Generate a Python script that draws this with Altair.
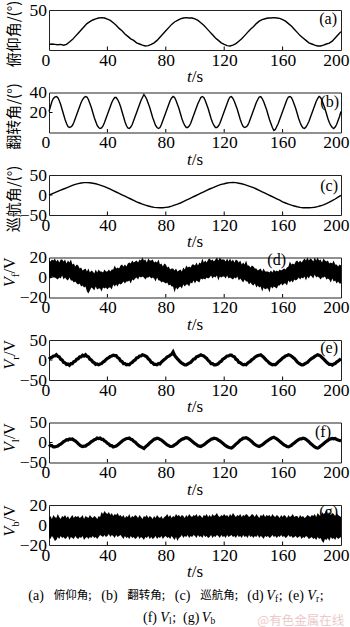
import altair as alt
import pandas as pd

# ---------------- data ----------------
T1 = list(range(0, 201))        # 1 s steps
T2 = list(range(0, 201, 2))     # 2 s steps

pitch = [7, 7.5, 7, 6.5, 7, 6, 7, 10, 13, 17,
         21, 25, 29, 33, 35.5, 37.5, 39, 40, 40.5, 40,
         38.5, 37, 34, 31, 27, 24, 20, 17, 14, 12,
         9, 7.5, 6, 5, 5.5, 7, 9, 12, 16, 20,
         24, 28, 32, 35, 37, 39, 40, 40.5, 40, 40,
         39, 37, 34, 31, 27, 23, 19, 15, 12, 9,
         7, 5.5, 5, 6, 8, 11, 14, 18, 22, 26,
         29, 33, 36, 38, 39, 40, 40, 40.5, 40, 39.5,
         38, 36, 33, 30, 26, 22, 18, 15, 12, 9,
         7.5, 6, 5, 5, 6, 7.5, 8.5, 11, 15, 19,
         23]

roll = [21, 26, 31, 34, 35.5, 36, 35, 32, 28, 23,
        18, 13, 9, 6, 5, 5.5, 7, 10, 14, 18,
        22, 26, 30, 33, 35, 36, 35.5, 33, 29, 25,
        20, 15, 11, 7, 5, 4, 4.5, 6.5, 10, 14,
        18, 22, 26, 30, 33, 35, 35, 33, 30, 26,
        21, 16, 11, 7, 4.5, 4, 5.5, 8, 12, 16,
        20, 24, 28, 32, 35, 38, 36, 33, 29, 25,
        20, 15, 11, 7, 5, 4, 5, 8, 12, 16,
        20, 24, 28, 32, 34.5, 36, 35, 32, 28, 24,
        19, 14, 10, 7, 5, 5, 6.5, 9, 13, 17,
        21, 25, 29, 32, 35, 36, 35, 32, 28, 24,
        19, 14, 10, 7, 5, 5, 6.5, 9, 13, 17,
        21, 25, 29, 33, 35.5, 36, 34, 31, 27, 23,
        18, 13, 9, 6, 5, 5.5, 7, 10, 14, 18,
        22, 26, 30, 33, 35.5, 36, 34, 31, 27, 23,
        18, 13, 9, 5, 2, 3, 6, 9, 13, 17,
        21, 25, 29, 33, 35.5, 36, 35, 32, 28, 24,
        19, 14, 10, 6.5, 4.5, 4, 5.5, 8, 11, 15,
        19, 23, 27, 31, 34, 36, 35, 32, 28, 24,
        19, 14, 10, 7, 5, 4, 5.5, 8, 12, 16,
        21]

yaw = [0, 3, 6, 9, 12, 15, 18, 21, 24, 26.5,
       28.5, 30, 31, 31, 30.5, 29.5, 28, 26, 23.5, 21,
       18, 14.5, 11, 7.5, 4, 0.5, -3, -6.5, -10, -13.5,
       -17, -20, -23, -25.5, -27.5, -29.5, -31, -31.5, -32, -32,
       -31, -30, -28, -25.5, -23, -20, -16.5, -13, -9.5, -6,
       -2.5, 1, 4.5, 8, 11.5, 15, 18, 21, 24, 26.5,
       28, 30, 31, 31.5, 31, 29.5, 28, 26, 23.5, 21,
       18.5, 15, 11.5, 8, 4.5, 1, -2.5, -6, -9.5, -13,
       -17, -20, -23, -25.5, -27.5, -29.5, -31, -32, -32, -32,
       -31.5, -30.5, -29, -27, -24.5, -21.5, -18, -14, -10, -5.5,
       -1]

vf_hi = [17, 16, 18, 17, 19, 16, 18, 15, 18, 18,
         16, 18, 14, 17, 15, 18, 13, 14, 11, 13,
         12, 9, 10, 7, 8, 9, 6, 9, 5, 7,
         6, 4, 8, 5, 8, 6, 6, 5, 8, 6,
         6, 8, 6, 8, 8, 12, 9, 10, 9, 12,
         13, 11, 13, 11, 14, 15, 14, 17, 15, 16,
         17, 15, 18, 17, 20, 17, 18, 15, 19, 17,
         17, 18, 15, 16, 15, 18, 13, 14, 11, 14,
         13, 10, 11, 8, 9, 9, 7, 9, 6, 7,
         8, 6, 10, 8, 12, 10, 11, 10, 13, 13,
         12, 15, 12, 15, 14, 19, 15, 17, 15, 18,
         19, 17, 18, 16, 18, 20, 17, 20, 18, 18,
         18, 16, 19, 16, 19, 16, 18, 15, 18, 17,
         15, 17, 13, 15, 13, 17, 12, 12, 10, 12,
         11, 9, 9, 7, 8, 9, 6, 9, 6, 6,
         6, 5, 7, 5, 8, 6, 7, 6, 8, 7,
         8, 9, 8, 10, 11, 16, 13, 14, 13, 16,
         17, 15, 17, 15, 17, 19, 17, 20, 17, 19,
         18, 16, 20, 17, 20, 17, 18, 15, 19, 17,
         16, 17, 14, 15, 14, 17, 13, 13, 11, 13,
         12]
vf_lo = [0, -1, 1, 0, 0, -1, -2, 0, -1, 2,
         -2, 0, -2, -3, 0, -3, -3, -5, -4, -6,
         -7, -6, -9, -8, -10, -9, -14, -16, -13, -10,
         -11, -13, -9, -12, -11, -11, -14, -10, -11, -10,
         -12, -10, -10, -12, -7, -9, -7, -9, -6, -7,
         -6, -4, -6, -4, -4, -3, -6, -2, -3, -1,
         0, -2, 1, 0, 1, 0, -2, 0, 0, 1,
         -1, 0, -1, -4, 0, -3, -3, -5, -4, -5,
         -6, -5, -8, -7, -9, -9, -15, -10, -12, -10,
         -9, -11, -7, -9, -7, -7, -9, -5, -6, -3,
         -6, -3, -4, -5, -1, -2, -1, -2, 0, -1,
         0, 2, -1, 1, 0, 2, -3, 1, 0, 1,
         1, -1, 2, -1, 0, -1, -2, 0, -1, 1,
         -3, -1, -3, -5, -2, -4, -4, -7, -5, -7,
         -8, -6, -10, -8, -10, -9, -14, -10, -12, -11,
         -11, -15, -9, -11, -9, -10, -11, -8, -8, -6,
         -8, -6, -6, -8, -3, -5, -3, -5, -2, -3,
         -2, 0, -2, 0, -1, 1, -3, 1, -1, 2,
         1, -1, 3, 0, 1, 0, -2, 0, 0, 1,
         -2, -1, -2, -5, -1, -4, -3, -6, -4, -6,
         -6]

vr = [2, 6, 7, 10, 10, 13, 9, 8, 2, 0,
      -6, -7, -11, -10, -13, -9, -9, -4, -3, 2,
      3, 8, 8, 12, 10, 13, 9, 8, 2, 0,
      -5, -7, -11, -10, -12, -10, -9, -5, -3, 1,
      4, 6, 9, 10, 12, 11, 11, 6, 4, -2,
      -4, -9, -9, -12, -11, -12, -8, -6, -2, 0,
      5, 6, 10, 10, 13, 12, 10, 8, 3, 0,
      -6, -7, -11, -11, -12, -9, -10, -5, -2, 1,
      4, 8, 9, 12, 14, 20, 12, 7, 3, -1,
      -5, -8, -10, -12, -12, -10, -8, -6, -2, 2,
      3, 8, 9, 11, 13, 11, 10, 7, 4, -1,
      -4, -9, -9, -12, -12, -11, -9, -5, -3, 2,
      4, 7, 10, 10, 12, 12, 9, 8, 2, 0,
      -6, -7, -10, -12, -11, -12, -8, -5, -3, 1,
      3, 7, 9, 11, 12, 13, 10, 7, 3, -1,
      -4, -8, -10, -12, -11, -12, -9, -5, -2, 1,
      5, 7, 10, 11, 13, 12, 10, 7, 4, 0,
      -5, -8, -10, -12, -12, -10, -8, -6, -2, 1,
      4, 6, 9, 11, 13, 12, 10, 6, 3, -1,
      -5, -8, -11, -11, -13, -10, -9, -5, -3, 0,
      3]

vl = [-5, -8, -8, -11, -11, -10, -9, -6, -4, -1,
      2, 4, 7, 6, 9, 8, 9, 6, 4, 1,
      -3, -6, -9, -10, -9, -9, -6, -4, -1, 2,
      4, 7, 8, 11, 10, 11, 8, 8, 4, 2,
      -2, -4, -8, -8, -11, -10, -9, -6, -3, 0,
      3, 6, 8, 10, 10, 11, 8, 7, 3, 1,
      -3, -6, -9, -11, -13, -15, -11, -8, -5, -1,
      2, 5, 8, 9, 11, 10, 8, 6, 3, 0,
      -3, -6, -8, -10, -10, -9, -6, -4, -1, 3,
      5, 8, 9, 11, 12, 11, 9, 6, 3, 0,
      -3, -5, -8, -9, -10, -8, -6, -3, 0, 3,
      5, 8, 9, 11, 10, 9, 6, 4, 1, -2,
      -5, -8, -10, -12, -13, -14, -11, -8, -4, -1,
      2, 6, 8, 11, 11, 12, 10, 8, 5, 2,
      -2, -5, -7, -9, -10, -8, -6, -3, 0, 3,
      5, 8, 10, 12, 13, 11, 9, 6, 3, 0,
      -3, -6, -8, -10, -11, -9, -7, -4, -1, 2,
      5, 7, 9, 9, 11, 10, 8, 5, 2, -2,
      -5, -8, -11, -13, -14, -12, -9, -6, -3, 0,
      3, 5, 8, 9, 10, 9, 10, 8, 6, 5,
      4]

vb_hi = [7, 9, 6, 10, 8, 7, 11, 8, 6, 9,
         8, 10, 7, 9, 6, 8, 10, 7, 9, 8,
         9, 7, 8, 10, 6, 9, 8, 7, 10, 8,
         7, 9, 8, 6, 9, 8, 13, 11, 14, 12,
         11, 13, 10, 12, 9, 11, 10, 12, 9, 10,
         8, 10, 7, 9, 8, 11, 7, 9, 8, 10,
         9, 7, 10, 8, 6, 9, 8, 10, 7, 9,
         8, 6, 9, 7, 10, 8, 7, 9, 6, 8,
         9, 11, 8, 10, 7, 9, 8, 11, 9, 10,
         8, 10, 9, 7, 10, 8, 11, 9, 8, 10,
         9, 11, 8, 10, 9, 7, 10, 9, 11, 8,
         10, 8, 11, 9, 10, 12, 9, 8, 10, 9,
         11, 9, 10, 8, 11, 9, 12, 10, 8, 10,
         9, 11, 8, 10, 9, 11, 10, 8, 9, 11,
         10, 8, 11, 9, 7, 10, 9, 11, 8, 10,
         9, 10, 8, 11, 9, 8, 10, 9, 7, 10,
         8, 10, 9, 7, 10, 8, 9, 11, 8, 9,
         9, 7, 10, 8, 9, 7, 8, 10, 9, 8,
         10, 9, 11, 8, 12, 10, 9, 13, 11, 12,
         16, 11, 13, 10, 12, 11, 9, 12, 10, 9,
         8]
vb_lo = [-12, -14, -11, -13, -16, -15, -12, -14, -11, -13,
         -12, -14, -13, -11, -15, -12, -13, -14, -11, -13,
         -14, -12, -13, -11, -15, -13, -12, -14, -12, -13,
         -11, -13, -12, -14, -12, -10, -11, -12, -10, -12,
         -11, -9, -12, -10, -11, -13, -10, -12, -11, -10,
         -12, -14, -11, -13, -12, -14, -11, -13, -12, -14,
         -13, -11, -14, -12, -13, -15, -12, -13, -11, -14,
         -12, -14, -13, -11, -14, -12, -13, -11, -14, -12,
         -11, -13, -12, -14, -11, -13, -15, -12, -16, -13,
         -12, -10, -13, -11, -12, -10, -13, -11, -12, -10,
         -11, -13, -10, -12, -11, -13, -10, -12, -11, -13,
         -12, -10, -13, -11, -12, -10, -11, -13, -10, -12,
         -11, -13, -10, -12, -11, -10, -12, -11, -13, -10,
         -12, -11, -13, -10, -12, -11, -13, -10, -12, -11,
         -13, -11, -12, -10, -13, -11, -12, -14, -11, -12,
         -11, -13, -12, -10, -12, -11, -13, -11, -12, -10,
         -12, -11, -13, -12, -10, -12, -11, -13, -12, -11,
         -13, -12, -11, -14, -12, -13, -11, -12, -14, -13,
         -12, -14, -13, -15, -12, -14, -13, -16, -18, -14,
         -15, -13, -16, -12, -14, -13, -15, -12, -14, -13,
         -12]

X_LABELS = [0, 40, 80, 120, 160, 200]
X_INNER_TICKS = [40, 80, 120, 160]

# ---------------- styling ----------------
SERIF = "Liberation Serif"
CJK = "Noto Sans CJK SC"
W, H = 292, 40
TICK_LEN = 3.5
LEFT = 47.7   # absolute x of the plot's left edge (caption positions are given relative to it)


def xenc(field="t"):
    return alt.X(f"{field}:Q",
                 scale=alt.Scale(domain=[0, 200], nice=False, zero=False),
                 axis=alt.Axis(values=X_LABELS, title=None, format="d",
                               labelFlush=True, labelFlushOffset=8,
                               labelPadding=1))


def yenc(field, dom, vals):
    return alt.Y(f"{field}:Q",
                 scale=alt.Scale(domain=dom, nice=False, zero=False),
                 axis=alt.Axis(values=vals, title=None, format="d",
                               labelPadding=2.5))


def txt(s, x, y, size=16, font=SERIF, style="normal", angle=0,
        align="left", baseline="middle", color="black"):
    return alt.Chart(pd.DataFrame({"s": [s]})).mark_text(
        font=font, fontSize=size, fontStyle=style, angle=angle,
        align=align, baseline=baseline, color=color
    ).encode(text="s:N", x=alt.value(x), y=alt.value(y))


def cjk_ytitle(s):
    return [txt(s, -35.5, 24, size=15, font=CJK, angle=270, align="center")]


def v_ytitle(sub, subw, yc=15):
    y0 = yc + 14.5
    vw = 9.8
    return [txt("V", -38.7, y0, size=16, style="italic", angle=270),
            txt(sub, -33.5, y0 - vw, size=11, angle=270),
            txt("/V", -38.7, y0 - vw - subw, size=16, angle=270)]


def panel(main, ydom, yvals, yinner, letter, lx, ly, ytitle, extra=()):
    layers = [main]
    layers.append(alt.Chart(pd.DataFrame({"t": X_INNER_TICKS})).mark_rule(
        color="black", strokeWidth=1).encode(
        x=xenc(), y=alt.value(H), y2=alt.value(H - TICK_LEN)))
    if yinner:
        layers.append(alt.Chart(pd.DataFrame({"v": yinner})).mark_rule(
            color="black", strokeWidth=1).encode(
            y=yenc("v", ydom, yvals), x=alt.value(0), x2=alt.value(TICK_LEN)))
    layers.append(txt(letter, lx, ly, size=16, align="right"))
    layers.append(txt("t", 138, 67, size=17, style="italic"))
    layers.append(txt("/s", 142.7, 67, size=17))
    layers.extend(ytitle)
    layers.extend(extra)
    return alt.layer(*layers).properties(width=W, height=H)


def line_panel(t, y, ydom, yvals, sw=1.4):
    return alt.Chart(pd.DataFrame({"t": t, "y": y})).mark_line(
        color="black", strokeWidth=sw).encode(x=xenc(), y=yenc("y", ydom, yvals))


def band_panel(t, hi, lo, ydom, yvals):
    return alt.Chart(pd.DataFrame({"t": t, "hi": hi, "lo": lo})).mark_area(
        color="black", opacity=1).encode(
        x=xenc(), y=yenc("hi", ydom, yvals), y2=alt.Y2("lo:Q"))


anchor = alt.Chart(pd.DataFrame({"a": [0]})).mark_rule(
    color="white", strokeWidth=1).encode(
    x=alt.value(-47.2), x2=alt.value(-46.5), y=alt.value(-6.5))

pa = panel(line_panel(T2, pitch, [0, 50], [50]), [0, 50], [50], None,
           "(a)", 288, 9, cjk_ytitle("俯仰角/(°)"), extra=[anchor])
pb = panel(line_panel(T1, roll, [0, 40], [20, 40]), [0, 40], [20, 40], [20],
           "(b)", 290, 9, cjk_ytitle("翻转角/(°)"))
pc = panel(line_panel(T2, yaw, [-50, 50], [-50, 0, 50]), [-50, 50], [-50, 0, 50], [0],
           "(c)", 289, 11, cjk_ytitle("巡航角/(°)"))
pd_ = panel(band_panel(T1, vf_hi, vf_lo, [-20, 20], [-20, 0, 20]), [-20, 20], [-20, 0, 20], [0],
            "(d)", 237, 2.5, v_ytitle("f", 3.7))
pe = panel(line_panel(T1, vr, [-50, 50], [-50, 0, 50], sw=3.2), [-50, 50], [-50, 0, 50], [0],
           "(e)", 289, 8, v_ytitle("r", 3.7))
pf = panel(line_panel(T1, vl, [-50, 50], [-50, 0, 50], sw=3.2), [-50, 50], [-50, 0, 50], [0],
           "(f)", 282, 9, v_ytitle("l", 3.1))

L1, L2 = 91, 113
RS, CS, SS = 14, 11.5, 9.5   # roman, CJK and subscript sizes of the caption


def cap(s, xabs, y, **kw):
    return txt(s, xabs - LEFT, y, **kw)


caption = [
    cap("(a)", 27, L1, size=RS),
    cap("俯仰角;", 52.5, L1, size=CS, font=CJK),
    cap("(b)", 100, L1, size=RS),
    cap("翻转角;", 126, L1, size=CS, font=CJK),
    cap("(c)", 173.5, L1, size=RS),
    cap("巡航角;", 199, L1, size=CS, font=CJK),
    cap("(d)", 246, L1, size=RS),
    cap("V", 265, L1, size=RS, style="italic"),
    cap("f", 273.8, L1 + 3, size=SS),
    cap(";", 277.5, L1, size=RS),
    cap("(e)", 287, L1, size=RS),
    cap("V", 306, L1, size=RS, style="italic"),
    cap("r", 314.8, L1 + 3, size=SS),
    cap(";", 318.5, L1, size=RS),
    cap("(f)", 141.7, L2, size=RS),
    cap("V", 159, L2, size=RS, style="italic"),
    cap("l", 167.8, L2 + 3, size=SS),
    cap(";", 171, L2, size=RS),
    cap("(g)", 181.7, L2, size=RS),
    cap("V", 200.5, L2, size=RS, style="italic"),
    cap("b", 209.3, L2 + 3, size=SS),
    cap("@有色金属在线", 256, 115.5, size=12.5, font=CJK, color="#ebcaca"),
]
pg = panel(band_panel(T1, vb_hi, vb_lo, [-20, 20], [-20, 0, 20]), [-20, 20], [-20, 0, 20], [0],
           "(g)", 289, 7, v_ytitle("b", 5.5, yc=17), extra=caption)

chart = alt.vconcat(pa, pb, pc, pd_, pe, pf, pg, spacing=42.5, bounds="flush").properties(
    padding={"left": 0, "top": 0, "right": 0, "bottom": 0},
    background="white",
).configure_view(
    stroke="#222", strokeWidth=1
).configure_axis(
    labelFont=SERIF, labelFontSize=17.5, labelColor="black",
    ticks=False, domain=False, grid=False
)

chart.save("out.html", embed_options={"renderer": "svg", "actions": False})
